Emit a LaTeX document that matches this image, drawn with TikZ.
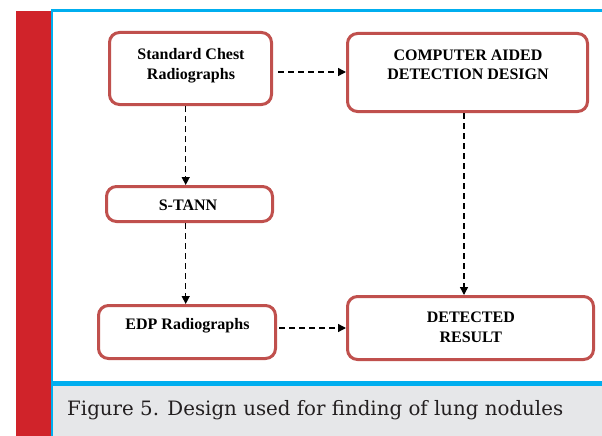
\documentclass[tikz,border=0pt]{standalone}
\usepackage{fontspec}
\setmainfont{Liberation Serif}
\newfontfamily\captionfont{DejaVu Serif}
\usetikzlibrary{arrows.meta}

\definecolor{barred}{HTML}{D0232A}
\definecolor{frameblue}{HTML}{00AEEF}
\definecolor{captiongrey}{HTML}{E6E7E9}
\definecolor{captionink}{HTML}{231F20}
\definecolor{boxred}{HTML}{C0504D}

\tikzset{
  procbox/.style={draw=boxred, line width=3pt, rounded corners=10pt,
    fill=white, inner sep=0pt},
  boxtext/.style={font=\fontsize{16}{19.5}\selectfont\bfseries, align=center,
    inner sep=0pt},
  flow/.style={line width=1.4pt, dash pattern=on 6pt off 4pt,
    -{Triangle[length=8pt,width=8pt]}},
}

\begin{document}
\begin{tikzpicture}[x=1pt,y=-1pt]
  % page area
  \useasboundingbox (0,0) rectangle (602,436);
  \fill[white] (0,0) rectangle (602,436);

  % side bar, frame and caption strip
  \fill[barred] (15.5,11) rectangle (51,436);
  \fill[captiongrey] (53,386) rectangle (602,436);
  \fill[frameblue] (51,9.3) rectangle (602,11.7);
  \fill[frameblue] (51,9.3) rectangle (53.3,436);
  \fill[frameblue] (51,381) rectangle (602,386);

  % process boxes
  \node[procbox, minimum width=162pt, minimum height=72pt] (std)   at (190.5,68.5) {};
  \node[procbox, minimum width=240pt, minimum height=78pt] (cad)   at (467.5,72.5) {};
  \node[procbox, minimum width=166pt, minimum height=35pt] (stann) at (189.5,204) {};
  \node[procbox, minimum width=177pt, minimum height=53pt] (edp)   at (187,332) {};
  \node[procbox, minimum width=246pt, minimum height=63pt] (det)   at (470.5,328) {};

  % box labels
  \node[boxtext] (stdtext)   at (191,65.8)   {Standard Chest\\Radiographs};
  \node[boxtext] (cadtext)   at (468,65)     {COMPUTER AIDED\\DETECTION DESIGN};
  \node[boxtext] (stanntext) at (188,205.4)  {S-TANN};
  \node[boxtext] (edptext)   at (187.5,325.7) {EDP Radiographs};
  \node[boxtext] (dettext)   at (470.8,327.3) {DETECTED\\RESULT};

  % connectors
  \draw[flow, shorten <=5pt] ([yshift=-3.5pt]std.east) -- ([yshift=-3.5pt]std.east -| cad.west);
  \draw[flow] ([xshift=-4.8pt]std.south) -- ([xshift=-4.8pt]std.south |- stann.north);
  \draw[flow] ([xshift=-3.8pt]stann.south) -- ([xshift=-3.8pt]stann.south |- edp.north);
  \draw[flow] ([xshift=-3.5pt]cad.south) -- ([xshift=-3.5pt]cad.south |- det.north);
  \draw[flow, shorten <=2pt] (edp.east |- det.west) -- (det.west);

  % caption
  \node[anchor=base west, inner sep=0pt, text=captionink,
        font=\captionfont\fontsize{19.8}{24}\selectfont] (caption) at (67,415)
        {Figure 5. Design used for finding of lung nodules};
\end{tikzpicture}
\end{document}
